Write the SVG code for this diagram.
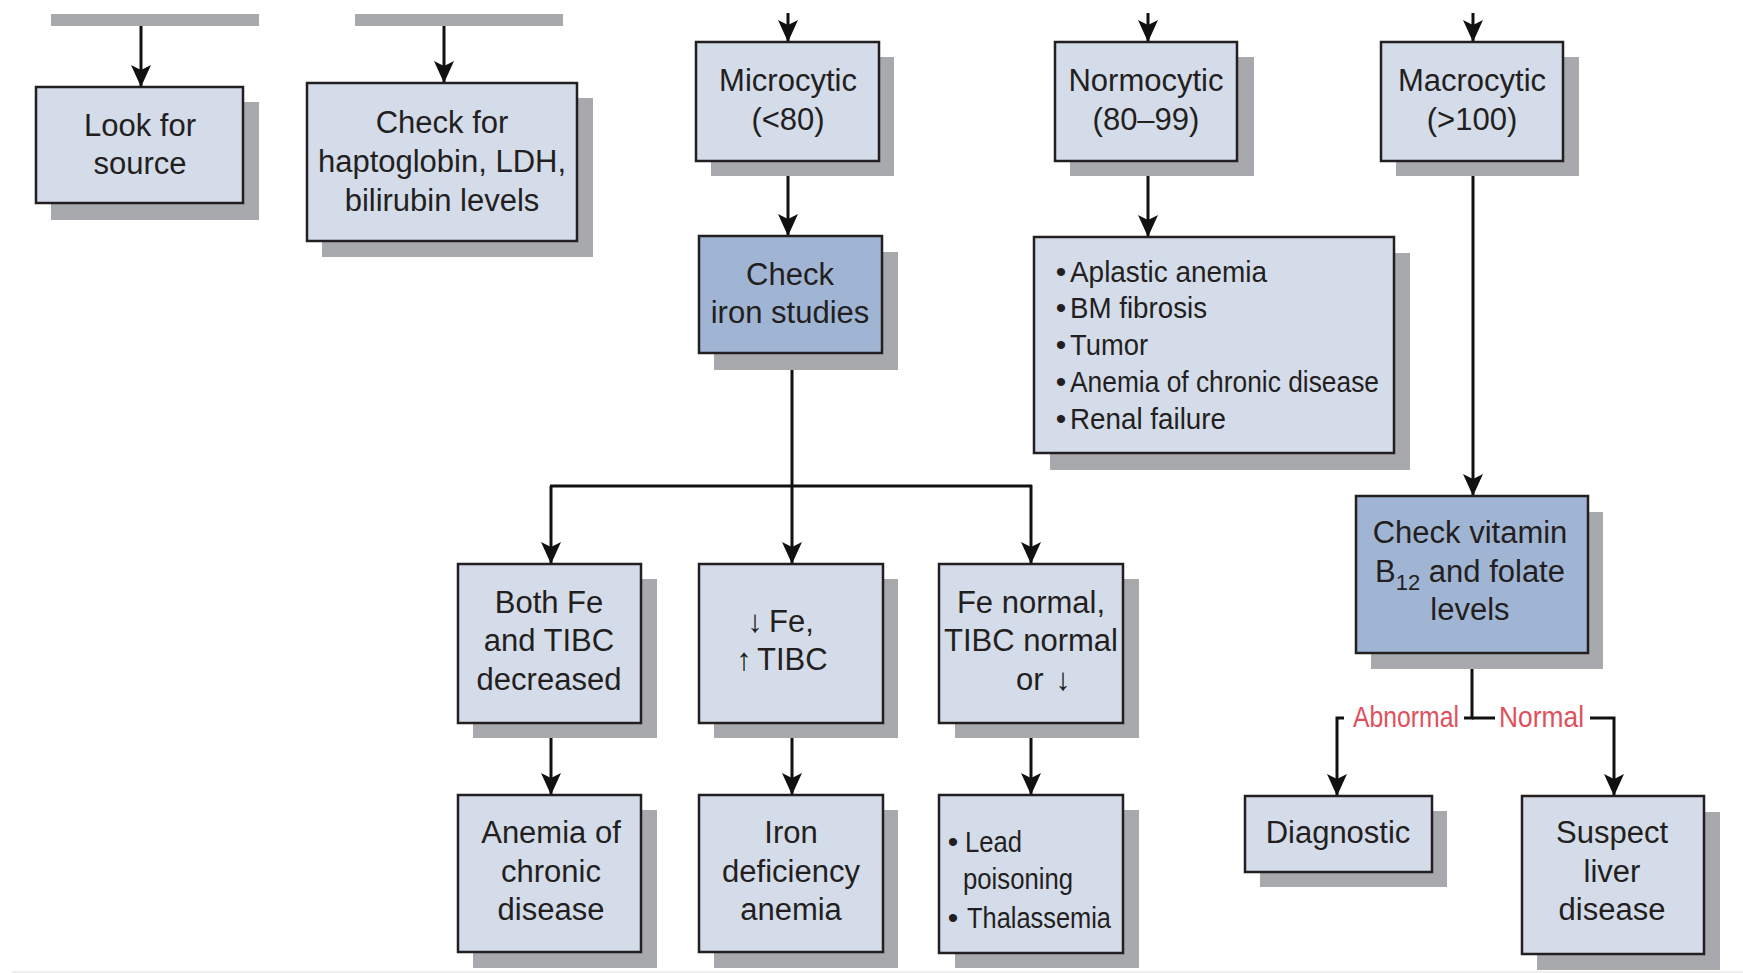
<svg xmlns="http://www.w3.org/2000/svg" width="1743" height="973" viewBox="0 0 1743 973">
<style>
.bar{fill:#a7a9ac}
.sh{fill:#a7a9ac}
.bx{fill:#d4dbe9;stroke:#231f20;stroke-width:2.5}
.bd{fill:#a0b4d4;stroke:#231f20;stroke-width:2.5}
.t{font-family:"Liberation Sans",Arial,sans-serif;font-size:31px;fill:#231f20;text-anchor:middle}
.s{text-anchor:start}
.l{font-family:"Liberation Sans",Arial,sans-serif;font-size:30px;fill:#231f20}
.m{text-anchor:middle}
.lab{font-family:"Liberation Sans",Arial,sans-serif;font-size:29px;fill:#e0505c}
.c{fill:none;stroke:#111;stroke-width:3}
.ca{fill:none;stroke:#111;stroke-width:3;marker-end:url(#ah)}
</style>
<defs>
<marker id="ah" markerUnits="userSpaceOnUse" markerWidth="24" markerHeight="22" refX="22" refY="10" orient="auto" viewBox="0 0 24 22">
<path d="M0,0 L22,10 L0,20 L5,10 Z" fill="#111"/>
</marker>
</defs>
<rect x="0" y="0" width="1743" height="973" fill="#fff"/>
<line x1="12" y1="972" x2="1743" y2="972" stroke="#eeeeee" stroke-width="2"/>
<rect class="bar" x="51" y="14" width="208" height="12"/>
<rect class="bar" x="355" y="14" width="208" height="12"/>
<g id="connectors">
<path class="ca" d="M141,26 V87"/>
<path class="ca" d="M444,26 V83"/>
<path class="ca" d="M788,13 V42"/>
<path class="ca" d="M1148,13 V42"/>
<path class="ca" d="M1473,13 V42"/>
<path class="ca" d="M788,161 V236"/>
<path class="ca" d="M1148,161 V237"/>
<path class="ca" d="M1473,161 V496"/>
<path class="c" d="M792,353 V486"/>
<path class="c" d="M550,486 H1032"/>
<path class="ca" d="M551,486 V564"/>
<path class="ca" d="M792,486 V564"/>
<path class="ca" d="M1031,485 V564"/>
<path class="ca" d="M551,723 V795"/>
<path class="ca" d="M792,723 V795"/>
<path class="ca" d="M1031,723 V795"/>
<path class="c" d="M1472,653 V718 H1464"/>
<path class="ca" d="M1344,718 H1337 V796"/>
<path class="c" d="M1472,718 H1495"/>
<path class="ca" d="M1590,718 H1614 V796"/>
<text class="lab" x="1353" y="727" textLength="106" lengthAdjust="spacingAndGlyphs">Abnormal</text>
<text class="lab" x="1499" y="727" textLength="85" lengthAdjust="spacingAndGlyphs">Normal</text>
</g>
<g id="look-for-source">
<rect class="sh" x="51" y="102" width="208" height="118"/>
<rect class="bx" x="36" y="87" width="207" height="116"/>
<text class="t" x="140" y="136">Look for</text>
<text class="t" x="140" y="174">source</text>
</g>
<g id="check-haptoglobin">
<rect class="sh" x="322" y="98" width="271" height="159"/>
<rect class="bx" x="307" y="83" width="270" height="158"/>
<text class="t" x="442" y="133">Check for</text>
<text class="t" x="442" y="172">haptoglobin, LDH,</text>
<text class="t" x="442" y="211">bilirubin levels</text>
</g>
<g id="microcytic">
<rect class="sh" x="711" y="57" width="183" height="119"/>
<rect class="bx" x="696" y="42" width="183" height="119"/>
<text class="t" x="788" y="91">Microcytic</text>
<text class="t" x="788" y="130">(&lt;80)</text>
</g>
<g id="normocytic">
<rect class="sh" x="1070" y="57" width="184" height="119"/>
<rect class="bx" x="1055" y="42" width="182" height="119"/>
<text class="t" x="1146" y="91">Normocytic</text>
<text class="t" x="1146" y="130">(80–99)</text>
</g>
<g id="macrocytic">
<rect class="sh" x="1396" y="57" width="183" height="119"/>
<rect class="bx" x="1381" y="42" width="182" height="119"/>
<text class="t" x="1472" y="91">Macrocytic</text>
<text class="t" x="1472" y="130">(&gt;100)</text>
</g>
<g id="check-iron-studies">
<rect class="sh" x="714" y="252" width="184" height="118"/>
<rect class="bd" x="699" y="236" width="183" height="117"/>
<text class="t" x="790" y="285">Check</text>
<text class="t" x="790" y="323">iron studies</text>
</g>
<g id="normocytic-causes">
<rect class="sh" x="1050" y="253" width="360" height="217"/>
<rect class="bx" x="1034" y="237" width="360" height="216"/>
<text class="l m" x="1061" y="282">•</text>
<text class="l" x="1070" y="282" textLength="197" lengthAdjust="spacingAndGlyphs">Aplastic anemia</text>
<text class="l m" x="1061" y="318">•</text>
<text class="l" x="1070" y="318" textLength="137" lengthAdjust="spacingAndGlyphs">BM fibrosis</text>
<text class="l m" x="1061" y="355">•</text>
<text class="l" x="1070" y="355" textLength="78" lengthAdjust="spacingAndGlyphs">Tumor</text>
<text class="l m" x="1061" y="392">•</text>
<text class="l" x="1070" y="392" textLength="309" lengthAdjust="spacingAndGlyphs">Anemia of chronic disease</text>
<text class="l m" x="1061" y="429">•</text>
<text class="l" x="1070" y="429" textLength="156" lengthAdjust="spacingAndGlyphs">Renal failure</text>
</g>
<g id="check-vitamin">
<rect class="sh" x="1371" y="512" width="232" height="157"/>
<rect class="bd" x="1356" y="496" width="232" height="157"/>
<text class="t" x="1470" y="543">Check vitamin</text>
<text class="t" x="1470" y="582">B<tspan font-size="22" dy="8">12</tspan><tspan dy="-8"> and folate</tspan></text>
<text class="t" x="1470" y="620">levels</text>
</g>
<g id="both-decreased">
<rect class="sh" x="473" y="579" width="184" height="159"/>
<rect class="bx" x="458" y="564" width="183" height="159"/>
<text class="t" x="549" y="613">Both Fe</text>
<text class="t" x="549" y="651">and TIBC</text>
<text class="t" x="549" y="690">decreased</text>
</g>
<g id="low-fe-high-tibc">
<rect class="sh" x="714" y="579" width="184" height="159"/>
<rect class="bx" x="699" y="564" width="184" height="159"/>
<text class="t" x="755" y="632">↓</text>
<text class="t s" x="769" y="632">Fe,</text>
<text class="t" x="744" y="670">↑</text>
<text class="t s" x="757" y="670">TIBC</text>
</g>
<g id="fe-normal">
<rect class="sh" x="955" y="579" width="184" height="159"/>
<rect class="bx" x="939" y="564" width="184" height="159"/>
<text class="t" x="1031" y="613">Fe normal,</text>
<text class="t" x="1031" y="651">TIBC normal</text>
<text class="t s" x="1016" y="690">or</text>
<text class="t" x="1063" y="690">↓</text>
</g>
<g id="anemia-chronic">
<rect class="sh" x="473" y="810" width="184" height="158"/>
<rect class="bx" x="458" y="795" width="183" height="157"/>
<text class="t" x="551" y="843">Anemia of</text>
<text class="t" x="551" y="882">chronic</text>
<text class="t" x="551" y="920">disease</text>
</g>
<g id="iron-deficiency">
<rect class="sh" x="714" y="810" width="184" height="158"/>
<rect class="bx" x="699" y="795" width="184" height="157"/>
<text class="t" x="791" y="843">Iron</text>
<text class="t" x="791" y="882">deficiency</text>
<text class="t" x="791" y="920">anemia</text>
</g>
<g id="lead-thalassemia">
<rect class="sh" x="955" y="810" width="184" height="158"/>
<rect class="bx" x="939" y="795" width="184" height="158"/>
<text class="l m" x="953" y="852">•</text>
<text class="l" x="965" y="852" textLength="57" lengthAdjust="spacingAndGlyphs">Lead</text>
<text class="l" x="963" y="889" textLength="110" lengthAdjust="spacingAndGlyphs">poisoning</text>
<text class="l m" x="953" y="928">•</text>
<text class="l" x="967" y="928" textLength="144" lengthAdjust="spacingAndGlyphs">Thalassemia</text>
</g>
<g id="diagnostic">
<rect class="sh" x="1260" y="811" width="187" height="76"/>
<rect class="bx" x="1245" y="796" width="187" height="76"/>
<text class="t" x="1338" y="843">Diagnostic</text>
</g>
<g id="suspect-liver">
<rect class="sh" x="1537" y="812" width="183" height="158"/>
<rect class="bx" x="1522" y="796" width="182" height="158"/>
<text class="t" x="1612" y="843">Suspect</text>
<text class="t" x="1612" y="882">liver</text>
<text class="t" x="1612" y="920">disease</text>
</g>
</svg>
